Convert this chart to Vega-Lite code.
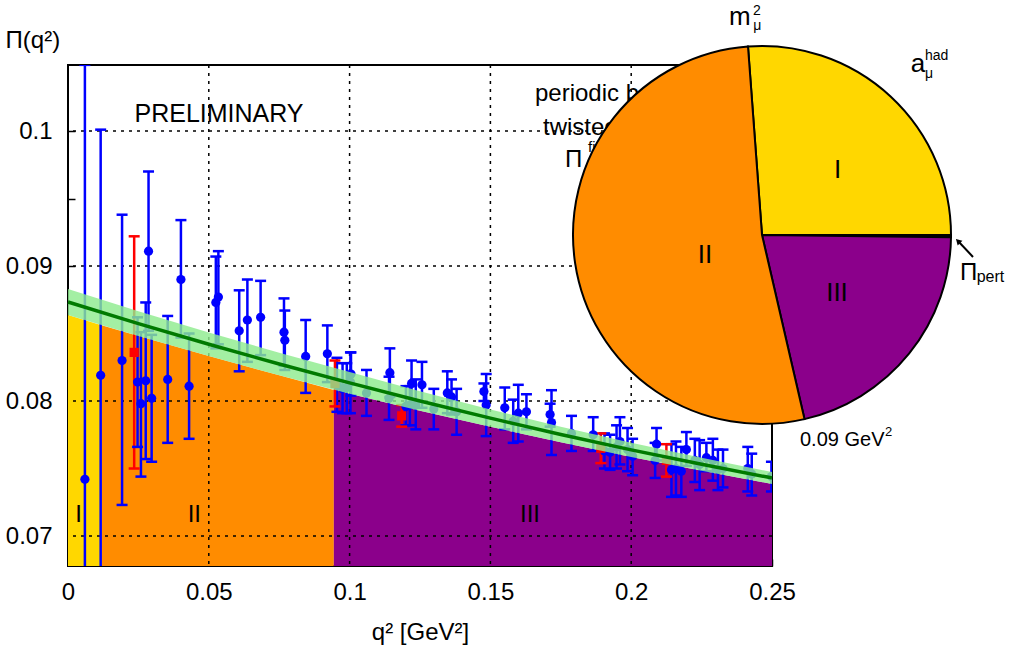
{
  "$schema": "https://vega.github.io/schema/vega-lite/v6.json",
  "width": 704,
  "height": 501,
  "autosize": "none",
  "padding": {"left": 68, "top": 65, "right": 239, "bottom": 85},
  "config": {
    "font": "Liberation Sans",
    "view": {"stroke": "black", "strokeWidth": 2},
    "axis": {"labelColor": "black", "titleColor": "black", "titleFontWeight": "normal"}
  },
  "data": {"values": [{}]},
  "datasets": {
    "regions": [
      {"q": 0, "p": 0.08637, "region": "I"},
      {"q": 0.0119, "p": 0.08562, "region": "I"},
      {"q": 0.0119, "p": 0.08562, "region": "II"},
      {"q": 0.025, "p": 0.08481, "region": "II"},
      {"q": 0.05, "p": 0.08333, "region": "II"},
      {"q": 0.075, "p": 0.0819, "region": "II"},
      {"q": 0.0944, "p": 0.08082, "region": "II"},
      {"q": 0.0944, "p": 0.08082, "region": "III"},
      {"q": 0.1, "p": 0.08053, "region": "III"},
      {"q": 0.125, "p": 0.07928, "region": "III"},
      {"q": 0.15, "p": 0.07809, "region": "III"},
      {"q": 0.175, "p": 0.07694, "region": "III"},
      {"q": 0.2, "p": 0.07586, "region": "III"},
      {"q": 0.225, "p": 0.07483, "region": "III"},
      {"q": 0.25, "p": 0.07386, "region": "III"}
    ],
    "gridx": [{"q": 0.05}, {"q": 0.1}, {"q": 0.15}, {"q": 0.2}],
    "gridy": [{"p": 0.07}, {"p": 0.08}, {"p": 0.09}, {"p": 0.1}],
    "pts": [
      {"q": 0.0060, "p": 0.0742, "lo": 0.0435, "hi": 0.1049, "s": "periodic"},
      {"q": 0.0116, "p": 0.0819, "lo": 0.0637, "hi": 0.1001, "s": "periodic"},
      {"q": 0.0192, "p": 0.0830, "lo": 0.0723, "hi": 0.0938, "s": "periodic"},
      {"q": 0.0247, "p": 0.0814, "lo": 0.0766, "hi": 0.0862, "s": "periodic"},
      {"q": 0.0259, "p": 0.0798, "lo": 0.0744, "hi": 0.0851, "s": "periodic"},
      {"q": 0.0276, "p": 0.0815, "lo": 0.0757, "hi": 0.0873, "s": "periodic"},
      {"q": 0.0286, "p": 0.0911, "lo": 0.0852, "hi": 0.0970, "s": "periodic"},
      {"q": 0.0297, "p": 0.0802, "lo": 0.0755, "hi": 0.0849, "s": "periodic"},
      {"q": 0.0354, "p": 0.0816, "lo": 0.0769, "hi": 0.0863, "s": "periodic"},
      {"q": 0.0401, "p": 0.0890, "lo": 0.0847, "hi": 0.0934, "s": "periodic"},
      {"q": 0.0430, "p": 0.0811, "lo": 0.0772, "hi": 0.0850, "s": "periodic"},
      {"q": 0.0525, "p": 0.0873, "lo": 0.0839, "hi": 0.0907, "s": "periodic"},
      {"q": 0.0534, "p": 0.0877, "lo": 0.0842, "hi": 0.0911, "s": "periodic"},
      {"q": 0.0608, "p": 0.0852, "lo": 0.0822, "hi": 0.0882, "s": "periodic"},
      {"q": 0.0637, "p": 0.0860, "lo": 0.0829, "hi": 0.0890, "s": "periodic"},
      {"q": 0.0684, "p": 0.0862, "lo": 0.0834, "hi": 0.0889, "s": "periodic"},
      {"q": 0.0767, "p": 0.0851, "lo": 0.0826, "hi": 0.0876, "s": "periodic"},
      {"q": 0.0770, "p": 0.0845, "lo": 0.0823, "hi": 0.0867, "s": "periodic"},
      {"q": 0.0844, "p": 0.0833, "lo": 0.0806, "hi": 0.0860, "s": "periodic"},
      {"q": 0.0921, "p": 0.0835, "lo": 0.0814, "hi": 0.0856, "s": "periodic"},
      {"q": 0.0955, "p": 0.0812, "lo": 0.0792, "hi": 0.0832, "s": "periodic"},
      {"q": 0.0975, "p": 0.0809, "lo": 0.0791, "hi": 0.0828, "s": "periodic"},
      {"q": 0.0990, "p": 0.0810, "lo": 0.0791, "hi": 0.0828, "s": "periodic"},
      {"q": 0.1003, "p": 0.0814, "lo": 0.0791, "hi": 0.0836, "s": "periodic"},
      {"q": 0.1005, "p": 0.0820, "lo": 0.0804, "hi": 0.0836, "s": "periodic"},
      {"q": 0.1060, "p": 0.0806, "lo": 0.0789, "hi": 0.0823, "s": "periodic"},
      {"q": 0.1143, "p": 0.0821, "lo": 0.0803, "hi": 0.0839, "s": "periodic"},
      {"q": 0.1140, "p": 0.0802, "lo": 0.0786, "hi": 0.0818, "s": "periodic"},
      {"q": 0.1200, "p": 0.0796, "lo": 0.0782, "hi": 0.0811, "s": "periodic"},
      {"q": 0.1214, "p": 0.0797, "lo": 0.0782, "hi": 0.0811, "s": "periodic"},
      {"q": 0.1220, "p": 0.0813, "lo": 0.0795, "hi": 0.0830, "s": "periodic"},
      {"q": 0.1235, "p": 0.0797, "lo": 0.0779, "hi": 0.0816, "s": "periodic"},
      {"q": 0.1257, "p": 0.0812, "lo": 0.0795, "hi": 0.0829, "s": "periodic"},
      {"q": 0.1299, "p": 0.0794, "lo": 0.0779, "hi": 0.0809, "s": "periodic"},
      {"q": 0.1347, "p": 0.0806, "lo": 0.0791, "hi": 0.0822, "s": "periodic"},
      {"q": 0.1362, "p": 0.0803, "lo": 0.0790, "hi": 0.0816, "s": "periodic"},
      {"q": 0.1380, "p": 0.0792, "lo": 0.0775, "hi": 0.0809, "s": "periodic"},
      {"q": 0.1477, "p": 0.0807, "lo": 0.0800, "hi": 0.0813, "s": "periodic"},
      {"q": 0.1485, "p": 0.0797, "lo": 0.0774, "hi": 0.0820, "s": "periodic"},
      {"q": 0.1551, "p": 0.0795, "lo": 0.0779, "hi": 0.0810, "s": "periodic"},
      {"q": 0.1581, "p": 0.0785, "lo": 0.0769, "hi": 0.0801, "s": "periodic"},
      {"q": 0.1599, "p": 0.0791, "lo": 0.0770, "hi": 0.0812, "s": "periodic"},
      {"q": 0.1628, "p": 0.0792, "lo": 0.0779, "hi": 0.0805, "s": "periodic"},
      {"q": 0.1712, "p": 0.0790, "lo": 0.0781, "hi": 0.0798, "s": "periodic"},
      {"q": 0.1717, "p": 0.0784, "lo": 0.0760, "hi": 0.0808, "s": "periodic"},
      {"q": 0.1788, "p": 0.0776, "lo": 0.0763, "hi": 0.0789, "s": "periodic"},
      {"q": 0.1865, "p": 0.0775, "lo": 0.0763, "hi": 0.0788, "s": "periodic"},
      {"q": 0.1905, "p": 0.0763, "lo": 0.0750, "hi": 0.0776, "s": "periodic"},
      {"q": 0.1925, "p": 0.0762, "lo": 0.0749, "hi": 0.0775, "s": "periodic"},
      {"q": 0.1948, "p": 0.0766, "lo": 0.0750, "hi": 0.0782, "s": "periodic"},
      {"q": 0.1960, "p": 0.0770, "lo": 0.0753, "hi": 0.0788, "s": "periodic"},
      {"q": 0.1987, "p": 0.0764, "lo": 0.0748, "hi": 0.0780, "s": "periodic"},
      {"q": 0.2005, "p": 0.0759, "lo": 0.0745, "hi": 0.0772, "s": "periodic"},
      {"q": 0.2085, "p": 0.0756, "lo": 0.0743, "hi": 0.0769, "s": "periodic"},
      {"q": 0.2090, "p": 0.0768, "lo": 0.0756, "hi": 0.0780, "s": "periodic"},
      {"q": 0.2143, "p": 0.0749, "lo": 0.0729, "hi": 0.0768, "s": "periodic"},
      {"q": 0.2159, "p": 0.0750, "lo": 0.0730, "hi": 0.0770, "s": "periodic"},
      {"q": 0.2178, "p": 0.0748, "lo": 0.0729, "hi": 0.0766, "s": "periodic"},
      {"q": 0.2196, "p": 0.0764, "lo": 0.0752, "hi": 0.0777, "s": "periodic"},
      {"q": 0.2226, "p": 0.0756, "lo": 0.0740, "hi": 0.0772, "s": "periodic"},
      {"q": 0.2243, "p": 0.0753, "lo": 0.0734, "hi": 0.0771, "s": "periodic"},
      {"q": 0.2267, "p": 0.0758, "lo": 0.0748, "hi": 0.0769, "s": "periodic"},
      {"q": 0.2290, "p": 0.0756, "lo": 0.0741, "hi": 0.0772, "s": "periodic"},
      {"q": 0.2308, "p": 0.0749, "lo": 0.0734, "hi": 0.0764, "s": "periodic"},
      {"q": 0.2326, "p": 0.0750, "lo": 0.0736, "hi": 0.0764, "s": "periodic"},
      {"q": 0.2414, "p": 0.0750, "lo": 0.0733, "hi": 0.0766, "s": "periodic"},
      {"q": 0.2428, "p": 0.0746, "lo": 0.0730, "hi": 0.0761, "s": "periodic"},
      {"q": 0.2498, "p": 0.0744, "lo": 0.0733, "hi": 0.0755, "s": "periodic"},
      {"q": 0.0235, "p": 0.0836, "lo": 0.0750, "hi": 0.0922, "s": "twisted"},
      {"q": 0.0948, "p": 0.0813, "lo": 0.0796, "hi": 0.0830, "s": "twisted"},
      {"q": 0.1185, "p": 0.0789, "lo": 0.0781, "hi": 0.0797, "s": "twisted"},
      {"q": 0.1892, "p": 0.0765, "lo": 0.0754, "hi": 0.0776, "s": "twisted"},
      {"q": 0.2125, "p": 0.0756, "lo": 0.0744, "hi": 0.0768, "s": "twisted"}
    ],
    "band": [
      {"q": 0, "mid": 0.08733, "lo": 0.08637, "hi": 0.08829},
      {"q": 0.025, "mid": 0.08573, "lo": 0.08481, "hi": 0.08665},
      {"q": 0.05, "mid": 0.0842, "lo": 0.08333, "hi": 0.08507},
      {"q": 0.075, "mid": 0.08274, "lo": 0.0819, "hi": 0.08358},
      {"q": 0.1, "mid": 0.08134, "lo": 0.08053, "hi": 0.08215},
      {"q": 0.125, "mid": 0.0800, "lo": 0.07928, "hi": 0.08072},
      {"q": 0.15, "mid": 0.07873, "lo": 0.07809, "hi": 0.07937},
      {"q": 0.175, "mid": 0.07752, "lo": 0.07694, "hi": 0.0781},
      {"q": 0.2, "mid": 0.07638, "lo": 0.07586, "hi": 0.0769},
      {"q": 0.225, "mid": 0.07531, "lo": 0.07483, "hi": 0.07579},
      {"q": 0.25, "mid": 0.0743, "lo": 0.07386, "hi": 0.07474}
    ],
    "pie": [
      {"part": "I", "frac": 26.18, "ord": 1},
      {"part": "pert", "frac": 0.19, "ord": 2},
      {"part": "III", "frac": 21.2, "ord": 3},
      {"part": "II", "frac": 52.43, "ord": 4}
    ]
  },
  "layer": [
    {
      "data": {"name": "regions"},
      "mark": {"type": "area", "clip": true},
      "encoding": {
        "x": {"field": "q", "type": "quantitative",
          "scale": {"domain": [0, 0.25], "nice": false, "zero": false},
          "axis": {"values": [0, 0.025, 0.05, 0.075, 0.1, 0.125, 0.15, 0.175, 0.2, 0.225, 0.25],
            "labelExpr": "abs(datum.value*20 - round(datum.value*20)) < 0.000001 ? format(datum.value, '~g') : ''",
            "grid": false, "domain": false, "tickSize": -7, "tickWidth": 1.5, "tickColor": "black",
            "labelPadding": 21, "labelFontSize": 24, "labelFlush": false, "labelOverlap": false,
            "title": "q² [GeV²]", "titleFontSize": 24, "titleY": 66, "titleBaseline": "middle"}},
        "y": {"field": "p", "type": "quantitative",
          "scale": {"domain": [0.067778, 0.104889], "nice": false, "zero": false},
          "axis": {"values": [0.07, 0.075, 0.08, 0.085, 0.09, 0.095, 0.1],
            "labelExpr": "abs(datum.value*100 - round(datum.value*100)) < 0.000001 ? format(datum.value, '~g') : ''",
            "grid": false, "domain": false, "tickSize": -7, "tickWidth": 1.5, "tickColor": "black",
            "labelPadding": 23, "labelFontSize": 24, "labelOverlap": false,
            "title": "Π(q²)", "titleFontSize": 24, "titleAngle": 0, "titleAlign": "left",
            "titleBaseline": "middle", "titleX": -63, "titleY": -25}},
        "y2": {"datum": 0.0675},
        "color": {"field": "region", "type": "nominal",
          "scale": {"domain": ["I", "II", "III"], "range": ["#FFD700", "#FF8C00", "#8B008B"]}, "legend": null}
      }
    },
    {
      "data": {"name": "gridx"},
      "mark": {"type": "rule", "color": "black", "strokeWidth": 1.5, "strokeDash": [3, 5]},
      "encoding": {"x": {"field": "q", "type": "quantitative"}}
    },
    {
      "data": {"name": "gridy"},
      "mark": {"type": "rule", "color": "black", "strokeWidth": 1.5, "strokeDash": [3, 5]},
      "encoding": {"y": {"field": "p", "type": "quantitative"}}
    },
    {
      "data": {"name": "pts"},
      "mark": {"type": "rule", "strokeWidth": 2.5, "clip": true},
      "encoding": {
        "x": {"field": "q", "type": "quantitative"},
        "y": {"field": "lo", "type": "quantitative"},
        "y2": {"field": "hi"},
        "color": {"field": "s", "type": "nominal", "scale": {"domain": ["periodic", "twisted"], "range": ["#0000FF", "#FF0000"]}, "legend": null}
      }
    },
    {
      "data": {"name": "pts"},
      "mark": {"type": "tick", "orient": "horizontal", "size": 11, "thickness": 2.5, "clip": true, "opacity": 1},
      "encoding": {
        "x": {"field": "q", "type": "quantitative"},
        "y": {"field": "lo", "type": "quantitative"},
        "color": {"field": "s", "type": "nominal", "scale": {"domain": ["periodic", "twisted"], "range": ["#0000FF", "#FF0000"]}, "legend": null}
      }
    },
    {
      "data": {"name": "pts"},
      "mark": {"type": "tick", "orient": "horizontal", "size": 11, "thickness": 2.5, "clip": true, "opacity": 1},
      "encoding": {
        "x": {"field": "q", "type": "quantitative"},
        "y": {"field": "hi", "type": "quantitative"},
        "color": {"field": "s", "type": "nominal", "scale": {"domain": ["periodic", "twisted"], "range": ["#0000FF", "#FF0000"]}, "legend": null}
      }
    },
    {
      "data": {"name": "pts"},
      "mark": {"type": "point", "filled": true, "size": 85, "opacity": 1, "clip": true},
      "encoding": {
        "x": {"field": "q", "type": "quantitative"},
        "y": {"field": "p", "type": "quantitative"},
        "color": {"field": "s", "type": "nominal", "scale": {"domain": ["periodic", "twisted"], "range": ["#0000FF", "#FF0000"]}, "legend": null},
        "shape": {"field": "s", "type": "nominal", "scale": {"domain": ["periodic", "twisted"], "range": ["circle", "square"]}, "legend": null}
      }
    },
    {
      "data": {"name": "band"},
      "mark": {"type": "area", "color": "#8FEC8F", "opacity": 0.82},
      "encoding": {
        "x": {"field": "q", "type": "quantitative"},
        "y": {"field": "lo", "type": "quantitative"},
        "y2": {"field": "hi"}
      }
    },
    {
      "data": {"name": "band"},
      "mark": {"type": "line", "color": "#007A00", "strokeWidth": 3.5, "interpolate": "monotone"},
      "encoding": {
        "x": {"field": "q", "type": "quantitative"},
        "y": {"field": "mid", "type": "quantitative"}
      }
    },
    {"mark": {"type": "text", "text": "PRELIMINARY", "fontSize": 25, "align": "center", "baseline": "alphabetic", "color": "black"},
     "encoding": {"x": {"datum": 0.05362}, "y": {"datum": 0.10067}}},
    {"mark": {"type": "text", "text": "I", "fontSize": 24, "align": "center", "baseline": "alphabetic", "color": "black"},
     "encoding": {"x": {"datum": 0.0038}, "y": {"datum": 0.07106}}},
    {"mark": {"type": "text", "text": "II", "fontSize": 24, "align": "center", "baseline": "alphabetic", "color": "black"},
     "encoding": {"x": {"datum": 0.04485}, "y": {"datum": 0.07106}}},
    {"mark": {"type": "text", "text": "III", "fontSize": 24, "align": "center", "baseline": "alphabetic", "color": "black"},
     "encoding": {"x": {"datum": 0.16406}, "y": {"datum": 0.07106}}},
    {"mark": {"type": "text", "text": "periodic bc", "fontSize": 24, "align": "left", "baseline": "alphabetic", "color": "black"},
     "encoding": {"x": {"datum": 0.16584}, "y": {"datum": 0.10222}}},
    {"mark": {"type": "text", "text": "twisted bc", "fontSize": 24, "align": "left", "baseline": "alphabetic", "color": "black"},
     "encoding": {"x": {"datum": 0.16868}, "y": {"datum": 0.0997}}},
    {"mark": {"type": "text", "text": "Π", "fontSize": 24, "align": "left", "baseline": "alphabetic", "color": "black"},
     "encoding": {"x": {"datum": 0.17649}, "y": {"datum": 0.09736}}},
    {"mark": {"type": "text", "text": "fit", "fontSize": 15, "align": "left", "baseline": "alphabetic", "color": "black"},
     "encoding": {"x": {"datum": 0.18466}, "y": {"datum": 0.09844}}},
    {
      "data": {"name": "pie"},
      "mark": {"type": "arc", "outerRadius": 189, "stroke": "black", "strokeWidth": 2},
      "encoding": {
        "x": {"datum": 0.24645},
        "y": {"datum": 0.0923},
        "theta": {"field": "frac", "type": "quantitative", "stack": true, "scale": {"range": [-0.0742, 6.209]}},
        "order": {"field": "ord", "type": "quantitative"},
        "color": {"field": "part", "type": "nominal",
          "scale": {"domain": ["I", "II", "III", "pert"], "range": ["#FFD700", "#FF8C00", "#8B008B", "#000000"]}, "legend": null}
      }
    },
    {"mark": {"type": "text", "text": "I", "fontSize": 26, "align": "center", "baseline": "alphabetic", "color": "black"},
     "encoding": {"x": {"datum": 0.27333}, "y": {"datum": 0.0965}}},
    {"mark": {"type": "text", "text": "II", "fontSize": 26, "align": "center", "baseline": "alphabetic", "color": "black"},
     "encoding": {"x": {"datum": 0.22621}, "y": {"datum": 0.09024}}},
    {"mark": {"type": "text", "text": "III", "fontSize": 26, "align": "center", "baseline": "alphabetic", "color": "black"},
     "encoding": {"x": {"datum": 0.27308}, "y": {"datum": 0.08743}}},
    {"mark": {"type": "text", "text": "m", "fontSize": 26, "align": "left", "baseline": "alphabetic", "color": "black"},
     "encoding": {"x": {"datum": 0.23473}, "y": {"datum": 0.10785}}},
    {"mark": {"type": "text", "text": "2", "fontSize": 14, "align": "left", "baseline": "alphabetic", "color": "black"},
     "encoding": {"x": {"datum": 0.24325}, "y": {"datum": 0.10862}}},
    {"mark": {"type": "text", "text": "μ", "fontSize": 14, "align": "left", "baseline": "alphabetic", "color": "black"},
     "encoding": {"x": {"datum": 0.24337}, "y": {"datum": 0.10748}}},
    {"mark": {"type": "text", "text": "a", "fontSize": 26, "align": "left", "baseline": "alphabetic", "color": "black"},
     "encoding": {"x": {"datum": 0.29925}, "y": {"datum": 0.10439}}},
    {"mark": {"type": "text", "text": "had", "fontSize": 14, "align": "left", "baseline": "alphabetic", "color": "black"},
     "encoding": {"x": {"datum": 0.30433}, "y": {"datum": 0.10528}}},
    {"mark": {"type": "text", "text": "μ", "fontSize": 14, "align": "left", "baseline": "alphabetic", "color": "black"},
     "encoding": {"x": {"datum": 0.30433}, "y": {"datum": 0.10392}}},
    {"mark": {"type": "text", "text": "Π", "fontSize": 24, "align": "left", "baseline": "alphabetic", "color": "black"},
     "encoding": {"x": {"datum": 0.31676}, "y": {"datum": 0.08896}}},
    {"mark": {"type": "text", "text": "pert", "fontSize": 16, "align": "left", "baseline": "alphabetic", "color": "black"},
     "encoding": {"x": {"datum": 0.32269}, "y": {"datum": 0.08881}}},
    {"mark": {"type": "rule", "color": "black", "strokeWidth": 2},
     "encoding": {"x": {"datum": 0.32138}, "y": {"datum": 0.09067}, "x2": {"datum": 0.31605}, "y2": {"datum": 0.09185}}},
    {"mark": {"type": "point", "shape": "triangle-up", "angle": -45, "filled": true, "color": "black", "size": 45, "opacity": 1},
     "encoding": {"x": {"datum": 0.31605}, "y": {"datum": 0.09185}}},
    {"mark": {"type": "text", "text": "0.09 GeV", "fontSize": 20, "align": "left", "baseline": "alphabetic", "color": "black"},
     "encoding": {"x": {"datum": 0.25994}, "y": {"datum": 0.07667}}},
    {"mark": {"type": "text", "text": "2", "fontSize": 13, "align": "left", "baseline": "alphabetic", "color": "black"},
     "encoding": {"x": {"datum": 0.29013}, "y": {"datum": 0.07738}}}
  ],
  "resolve": {"scale": {"color": "independent", "shape": "independent"}}
}
